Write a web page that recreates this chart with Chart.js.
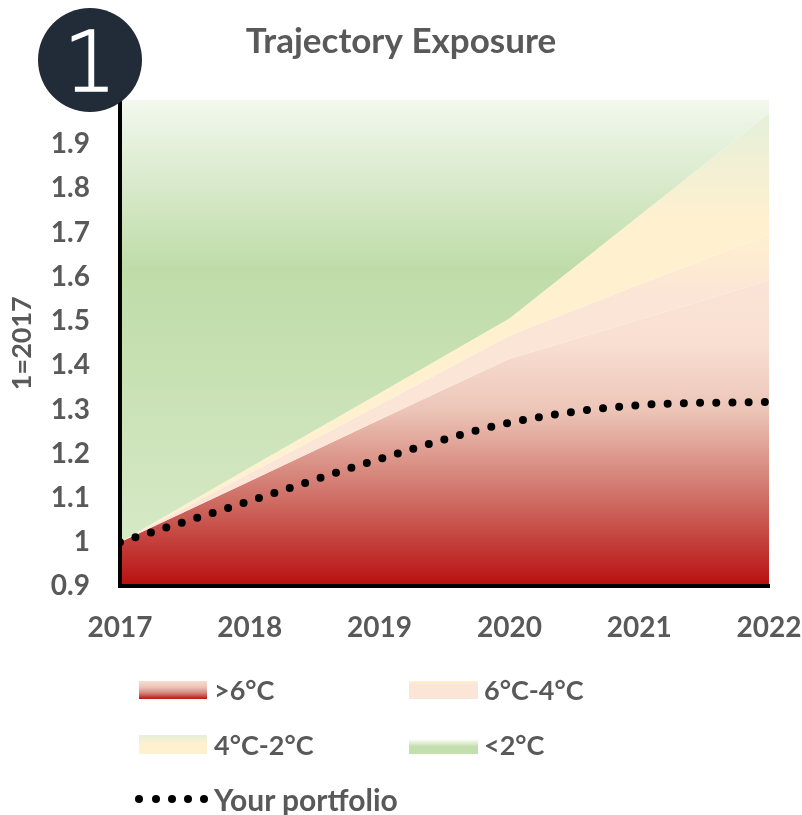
<!DOCTYPE html>
<html><head><meta charset="utf-8">
<script src="https://cdn.jsdelivr.net/npm/chart.js@4"></script>
<style>
html,body{margin:0;padding:0;background:#fff;width:802px;height:815px;overflow:hidden}
#wrap{position:relative;width:802px;height:815px}
canvas{position:absolute;left:0;top:0}
#badge{position:absolute;left:38px;top:8px;width:104px;height:104px;border-radius:50%;background:#222b38;color:#fff;font:200 84px "DejaVu Sans";line-height:108px;text-align:center;-webkit-text-stroke:1.6px #fff}
.sw{position:absolute}
.lb{position:absolute;font:700 27px Lato;color:#595959;white-space:nowrap;line-height:30px}
.dot{position:absolute;width:8px;height:8px;border-radius:50%;background:#000}
</style></head><body>
<div id="wrap"><canvas id="c" width="802" height="815"></canvas>
<div id="badge">1</div>
<div id="legend"></div></div>
<script>
const categories=['2017','2018','2019','2020','2021','2022'];
const over6=[1.0,1.138,1.277,1.415,1.503,1.592];
const from6to4=[1.0,1.156,1.311,1.467,1.583,1.695];
const from4to2=[1.0,1.169,1.337,1.506,1.738,1.97];
const under2=[2,2,2,2,2,2];
const portfolio=[1.0,1.093,1.188,1.27,1.31,1.317];
const yTicks=['0.9','1','1.1','1.2','1.3','1.4','1.5','1.6','1.7','1.8','1.9'];
const seriesNames=['>6°C','6°C-4°C','4°C-2°C','<2°C','Your portfolio'];

function grad(stops){return ctx=>{const ch=ctx.chart,a=ch.chartArea;if(!a)return 'transparent';
  const s=ch.scales.y;const hi=stops[0][0],lo=stops[stops.length-1][0];
  const y0=s.getPixelForValue(hi),y1=s.getPixelForValue(lo);
  const g=ch.ctx.createLinearGradient(0,y0,0,y1);
  stops.forEach(p=>g.addColorStop((s.getPixelForValue(p[0])-y0)/(y1-y0),p[1]));return g;};}
const axisFont={family:'Lato',weight:'700',size:28};
new Chart(document.getElementById('c'),{type:'line',data:{labels:categories,datasets:[
 {label:seriesNames[4],data:portfolio,borderColor:'#000',borderWidth:8,borderCapStyle:'round',borderDash:[0,16.2],pointRadius:0,fill:false,cubicInterpolationMode:'monotone',order:0,clip:{left:0,right:4,top:4,bottom:4}},
 {label:seriesNames[0],data:over6,borderWidth:0,pointRadius:0,fill:'start',order:4,backgroundColor:grad([[1.6,'#fbe4d7'],[1.45,'#f8dfd2'],[1.3,'#ecc6b8'],[1.1,'#cf6f66'],[0.9,'#b80f0f']])},
 {label:seriesNames[1],data:from6to4,borderWidth:0,pointRadius:0,fill:'-1',order:3,backgroundColor:grad([[1.7,'#fff0cf'],[1.55,'#fbe5d7'],[1,'#fbe5d7']])},
 {label:seriesNames[2],data:from4to2,borderWidth:0,pointRadius:0,fill:'-1',order:2,backgroundColor:grad([[1.97,'#e5f0da'],[1.72,'#fff0cf'],[1,'#fff0cf']])},
 {label:seriesNames[3],data:under2,borderWidth:0,pointRadius:0,fill:'-1',order:1,backgroundColor:grad([[2,'#f2f8ee'],[1.62,'#bfdca8'],[1,'#d6e9c6']])}
]},options:{responsive:false,animation:false,
 layout:{padding:{left:0,right:0,top:0,bottom:153}},
 plugins:{legend:{display:false},tooltip:{enabled:false},
  title:{display:true,text:'Trajectory Exposure',color:'#595959',font:{family:'Lato',weight:'700',size:35},padding:{top:21,bottom:37}}},
 scales:{
  x:{offset:false,grid:{display:false},border:{color:'#000',width:4,z:1},afterFit:s=>{s.paddingRight=33;},
     ticks:{color:'#595959',font:axisFont,maxRotation:0,padding:17,autoSkip:false}},
  y:{min:0.9,max:2,afterBuildTicks:s=>{s.ticks=yTicks.map(t=>({value:Number(t)}));},afterFit:s=>{s.width=120;},
     grid:{display:false},border:{color:'#000',width:4,z:1},
     title:{display:true,text:'1=2017',color:'#595959',font:{family:'Lato',weight:'700',size:27},padding:{top:6,bottom:0}},
     ticks:{color:'#595959',font:axisFont,padding:22,callback:v=>yTicks.find(t=>Number(t)===v)}}
 }}});
const lg=document.getElementById('legend');
function sw(x,y,w,h,bg){const d=document.createElement('div');d.className='sw';d.style.cssText=`left:${x}px;top:${y}px;width:${w}px;height:${h}px;background:${bg}`;lg.appendChild(d);}
function lb(x,y,t,fs){const d=document.createElement('div');d.className='lb';d.style.left=x+'px';d.style.top=(y-15)+'px';if(fs)d.style.fontSize=fs+'px';d.textContent=t;lg.appendChild(d);}
sw(139,681,68,18,'linear-gradient(#f8dccf,#ecc3b6 35%,#d58a80 65%,#bd1212)');
sw(409,681,69,18,'linear-gradient(#fff0cf,#fbe5d7 25%)');
sw(139,735,68,19,'linear-gradient(#e4efda,#fff0cf 45%)');
sw(409,739,69,15,'linear-gradient(#ffffff,#c3dfae 50%)');
lb(214,690,seriesNames[0]);lb(484,690,seriesNames[1]);lb(214,745,seriesNames[2]);lb(484,745,seriesNames[3]);lb(214,799,seriesNames[4],30);
[139,155.5,172,188,204].forEach(x=>{const d=document.createElement('div');d.className='dot';d.style.left=(x-4)+'px';d.style.top='795px';lg.appendChild(d);});
</script></body></html>
